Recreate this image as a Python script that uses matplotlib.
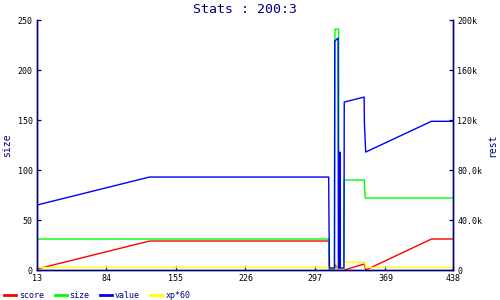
import matplotlib.pyplot as plt
from matplotlib.ticker import FixedLocator

# series (x = time, left axis units unless noted)
score_x = [13, 128, 311, 311.5, 316.8, 318, 320.5, 327, 347.3, 349, 416, 438]
score_y = [1, 29, 29, 0, 0, 7, 0, 0, 6, 0, 31, 31]

size_x = [13, 311, 311.3, 311.8, 316.9, 317.4, 321.2, 321.6, 326.4, 326.7, 347.3, 348.3, 438]
size_y = [31, 31, 15, 0, 0, 241, 241, 0, 0, 90, 90, 72, 72]

xp_x = [13, 315.9, 318.3, 320.8, 326.3, 326.6, 347.6, 349, 438]
xp_y = [2.5, 2.5, 8, 0.5, 0.5, 8, 8, 2.5, 2.5]

# value is on the right ("rest") axis
value_x = [13, 128, 311, 311.3, 311.8, 316.9, 317.2, 320.6, 320.9, 322.4, 322.6, 322.8,
           326.6, 326.9, 347.2, 347.5, 348.8, 416, 438]
value_y = [52000, 74400, 74400, 39200, 1600, 1600, 183200, 185600, 1600, 1600, 94400, 1600,
           1600, 134400, 138400, 117600, 94400, 119000, 119000]

x_ticks = [13, 84, 155, 226, 297, 369, 438]
left_ticks = [0, 50, 100, 150, 200, 250]
right_ticks = [0, 40000, 80000, 120000, 160000, 200000]
right_labels = ["0", "40.0k", "80.0k", "120k", "160k", "200k"]

navy = "#000080"
mono = "DejaVu Sans Mono"

fig = plt.figure(figsize=(5, 3), dpi=100)
fig.subplots_adjust(left=0.074, right=0.906, bottom=0.1, top=0.933)
ax = fig.add_subplot(111)
ax2 = ax.twinx()

l1, = ax.plot(score_x, score_y, color="#ff0000", lw=1.0, label="score")
l2, = ax.plot(size_x, size_y, color="#00ff00", lw=1.0, label="size")
l4, = ax.plot(xp_x, xp_y, color="#ffff00", lw=1.0, label="xp*60")
l3, = ax2.plot(value_x, value_y, color="#0000ff", lw=1.0, label="value")

ax.set_xlim(13, 438)
ax.set_ylim(0, 250)
ax2.set_ylim(0, 200000)
ax.xaxis.set_major_locator(FixedLocator(x_ticks))
ax.set_xticklabels([str(t) for t in x_ticks])
ax.set_yticks(left_ticks)
ax2.set_yticks(right_ticks)
ax2.set_yticklabels(right_labels)

for a in (ax, ax2):
    a.spines["top"].set_visible(False)
    for s in ("left", "right", "bottom"):
        a.spines[s].set_color(navy)
        a.spines[s].set_linewidth(1.0)
    a.tick_params(direction="in", length=3, width=0.9, color=navy,
                  labelsize=6, labelcolor="black", pad=3)
    for lab in a.get_xticklabels() + a.get_yticklabels():
        lab.set_family(mono)

ax.set_ylabel("size", color=navy, family=mono, fontsize=7, labelpad=4)
ax2.set_ylabel("rest", color=navy, family=mono, fontsize=7, labelpad=4)
ax.set_title("Stats : 200:3", color=navy, family=mono, fontsize=9.5, pad=5)

leg = fig.legend(handles=[l1, l2, l3, l4], loc="lower left", bbox_to_anchor=(0.0, -0.015),
                 ncol=4, frameon=False, handlelength=1.45, handletextpad=0.35,
                 columnspacing=1.25, borderpad=0.3, borderaxespad=0.2,
                 prop={"family": mono, "size": 6})
for t in leg.get_texts():
    t.set_color(navy)
for h in leg.get_lines():
    h.set_linewidth(2.0)

plt.savefig("out.png", dpi=100)
